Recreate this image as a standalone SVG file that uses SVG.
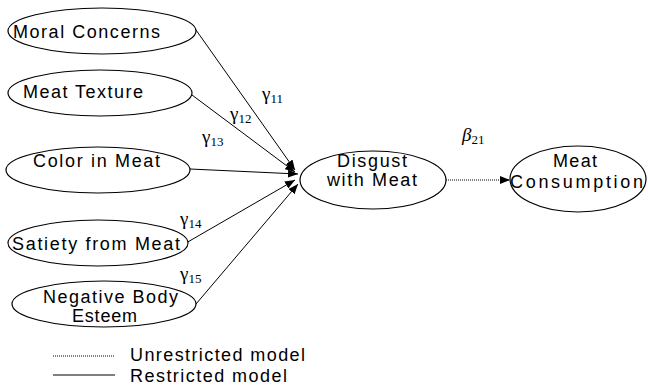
<svg xmlns="http://www.w3.org/2000/svg" width="648" height="388" viewBox="0 0 648 388">
<defs>
<marker id="ah" markerWidth="10" markerHeight="8" refX="10" refY="4" orient="auto" markerUnits="userSpaceOnUse">
<path d="M0,0 L10,4 L0,8 Z" fill="#000"/>
</marker>
<style>
.n{fill:#fff;stroke:#000;stroke-width:1.2}
.t{font-family:"Liberation Sans",Arial,sans-serif;font-size:18px;fill:#000}
.g{font-family:"Liberation Serif","Times New Roman",serif;font-size:19px;fill:#000}
.s{font-size:13px}
.c{stroke:#000;stroke-width:1;fill:none}
.d{stroke:#000;stroke-width:1;stroke-dasharray:1,1;fill:none}
</style>
</defs>
<rect width="648" height="388" fill="#fff"/>
<g id="connectors">
<line class="c" x1="196" y1="30" x2="295" y2="170" marker-end="url(#ah)"/>
<line class="c" x1="192" y1="95" x2="295" y2="172" marker-end="url(#ah)"/>
<line class="c" x1="190" y1="169" x2="298" y2="174" marker-end="url(#ah)"/>
<line class="c" x1="186" y1="243" x2="295" y2="180" marker-end="url(#ah)"/>
<line class="c" x1="196" y1="304" x2="298" y2="184" marker-end="url(#ah)"/>
<line class="d" x1="446" y1="180" x2="510" y2="180" marker-end="url(#ah)"/>
</g>
<g id="moral"><ellipse class="n" cx="102" cy="31" rx="94" ry="23"/><text class="t" x="13" y="38" textLength="147" lengthAdjust="spacing">Moral Concerns</text></g>
<g id="texture"><ellipse class="n" cx="100" cy="93" rx="92" ry="23"/><text class="t" x="23" y="98" textLength="120" lengthAdjust="spacing">Meat Texture</text></g>
<g id="color"><ellipse class="n" cx="98" cy="170" rx="92" ry="23"/><text class="t" x="33" y="167" textLength="127" lengthAdjust="spacing">Color in Meat</text></g>
<g id="satiety"><ellipse class="n" cx="98" cy="243" rx="90" ry="23"/><text class="t" x="12" y="250" textLength="168" lengthAdjust="spacing">Satiety from Meat</text></g>
<g id="negative"><ellipse class="n" cx="104" cy="304" rx="92" ry="23"/><text class="t" x="43" y="303" textLength="135" lengthAdjust="spacing">Negative Body</text><text class="t" x="72" y="322" textLength="65" lengthAdjust="spacing">Esteem</text></g>
<g id="disgust"><ellipse class="n" cx="373" cy="180" rx="73" ry="29"/><text class="t" x="337" y="167" textLength="70" lengthAdjust="spacing">Disgust</text><text class="t" x="327" y="186" textLength="90" lengthAdjust="spacing">with Meat</text></g>
<g id="consumption"><ellipse class="n" cx="578" cy="179" rx="68" ry="33"/><text class="t" x="553" y="167" textLength="44" lengthAdjust="spacing">Meat</text><text class="t" x="510" y="188" textLength="133" lengthAdjust="spacing">Consumption</text></g>
<g id="labels">
<text class="g" x="262" y="100">γ<tspan class="s" dy="3">11</tspan></text>
<text class="g" x="230" y="120">γ<tspan class="s" dy="3">12</tspan></text>
<text class="g" x="202" y="143">γ<tspan class="s" dy="3">13</tspan></text>
<text class="g" x="180" y="225">γ<tspan class="s" dy="3">14</tspan></text>
<text class="g" x="180" y="280">γ<tspan class="s" dy="3">15</tspan></text>
<text class="g" x="462" y="141" font-style="italic">β<tspan class="s" dy="3" font-style="normal">21</tspan></text>
</g>
<g id="legend">
<line class="d" x1="53" y1="356" x2="115" y2="356"/>
<text class="t" x="130" y="361" textLength="175" lengthAdjust="spacing">Unrestricted model</text>
<line class="c" x1="53" y1="375" x2="115" y2="375"/>
<text class="t" x="130" y="382" textLength="157" lengthAdjust="spacing">Restricted model</text>
</g>
</svg>
